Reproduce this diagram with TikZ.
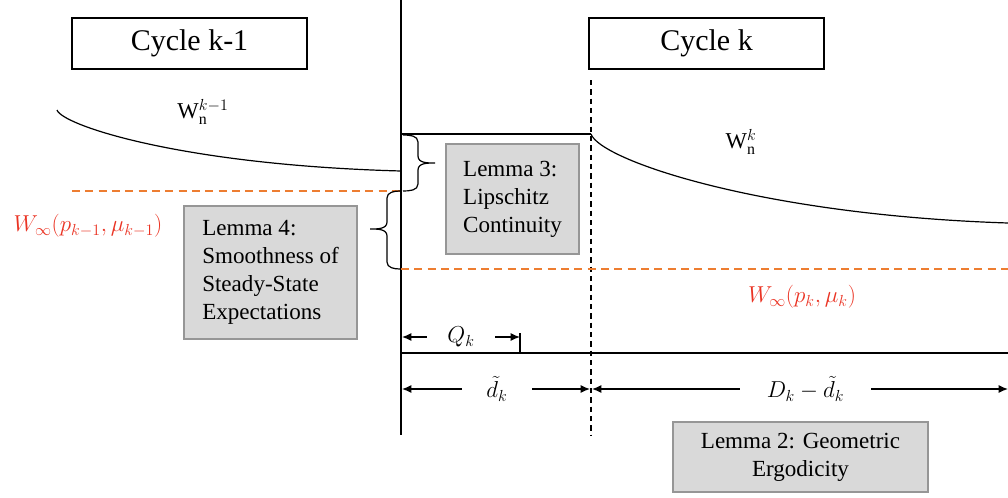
\documentclass[tikz,border=0pt]{standalone}
\usepackage{fontspec}
\setmainfont{Liberation Serif}
\usetikzlibrary{arrows.meta}
\definecolor{wred}{RGB}{234,51,35}
\definecolor{dorange}{RGB}{237,125,49}
\definecolor{lemfill}{RGB}{217,217,217}
\definecolor{lemdraw}{RGB}{150,150,150}
\begin{document}
\begin{tikzpicture}[x=0.75pt,y=-0.75pt,
  cyclebox/.style={draw,line width=0.8pt,inner sep=0pt,minimum width=235*0.75pt,minimum height=51*0.75pt,font=\fontsize{22.5}{27}\selectfont},
  lemmabox/.style={draw=lemdraw,fill=lemfill,line width=1pt,inner sep=0pt,font=\fontsize{17.3}{21}\selectfont},
  ln/.style={line width=0.9pt},
  dimarrow/.style={line width=0.9pt,-{Latex[length=7pt,width=6pt]}},
  mlabel/.style={font=\fontsize{17}{20}\selectfont,inner sep=0pt,minimum height=20pt},
  wl/.style={text=wred,font=\fontsize{17}{20}\selectfont},
  odash/.style={dorange,line width=0.8pt,dash pattern=on 6pt off 4pt},
  vdash/.style={line width=0.9pt,dash pattern=on 4pt off 3pt},
]
\useasboundingbox (0,0) rectangle (1008,497);

% cycle boxes
\node[cyclebox] (c1) at (189.5,43.5) {Cycle k-1};
\node[cyclebox] (c2) at (706.5,43.5) {Cycle k};

% main vertical lines
\coordinate (vt) at (401,0);
\coordinate (vb) at (401,435);
\draw[ln] (vt) -- (vb);
\coordinate (dt) at (591,80);
\coordinate (db) at (591,435);
\draw[vdash] (dt) -- (db);

% curves
\coordinate (ls) at (57,110);
\coordinate (le) at (401,171);
\draw[ln] (ls) .. controls (62,125) and (180,165) .. (le);
\coordinate (p1) at (401,134);
\coordinate (p2) at (591,134);
\coordinate (re) at (1008,223);
\draw[ln] (p1) -- (p2);
\draw[ln] (p2) .. controls (600,160) and (760,215) .. (re);

% steady-state dashed lines
\coordinate (o1a) at (72,191);
\coordinate (o1b) at (401,191);
\coordinate (o2a) at (401,269);
\coordinate (o2b) at (1008,269);
\draw[odash] (o1a) -- (o1b);
\draw[odash] (o2a) -- (o2b);

% braces
\draw[ln] (403,135) to[out=0,in=90] (418,142) -- (418,156) to[out=-90,in=180] (435,163)
          to[out=180,in=90] (418,170) -- (418,184) to[out=-90,in=0] (403,191);
\draw[ln] (400,191) to[out=180,in=90] (387,198) -- (387,222) to[out=-90,in=0] (370,229)
          to[out=0,in=90] (387,236) -- (387,262) to[out=-90,in=180] (400,269);

% lemma boxes
\node[lemmabox,minimum width=133*0.75pt,minimum height=110*0.75pt,align=left] (l3) at (512.5,199) {Lemma 3:\\Lipschitz\\Continuity};
\node[lemmabox,minimum width=173*0.75pt,minimum height=133*0.75pt,align=left] (l4) at (270.5,272.5) {Lemma 4:\\Smoothness of\\Steady-State\\Expectations};
\node[lemmabox,minimum width=255*0.75pt,minimum height=70*0.75pt,align=center] (l2) at (800.5,457) {Lemma 2: Geometric\\Ergodicity};

% curve labels
\node[font=\fontsize{17}{20}\selectfont] (wk1) at (203,112) {$\mathrm{W}_{\mathrm{n}}^{k-1}$};
\node[font=\fontsize{17}{20}\selectfont] (wk) at (741,142) {$\mathrm{W}_{\mathrm{n}}^{k}$};
\node[wl] (winf1) at (88,226) {$W_\infty(p_{k-1},\mu_{k-1})$};
\node[wl] (winf2) at (802,297) {$W_\infty(p_k,\mu_k)$};

% time axis
\coordinate (ha) at (401,353);
\coordinate (hb) at (1008,353);
\draw[ln] (ha) -- (hb);

% Q_k
\node[mlabel,minimum width=68*0.75pt] (qk) at (461,337) {$Q_k$};
\coordinate (qa) at (402,337);
\coordinate (qb) at (520,337);
\draw[dimarrow] (qk) -- (qa);
\draw[dimarrow] (qk) -- (qb);
\coordinate (qt) at (520,333);
\coordinate (qtb) at (520,353);
\draw[ln] (qt) -- (qtb);

% d_k
\node[mlabel,minimum width=70*0.75pt] (dk) at (497,389) {$\tilde{d}_k$};
\coordinate (da) at (402,389);
\coordinate (dbb) at (590,389);
\draw[dimarrow] (dk) -- (da);
\draw[dimarrow] (dk) -- (dbb);

% D_k - d_k
\node[mlabel,minimum width=131*0.75pt] (Dk) at (805.5,389) {$D_k-\tilde{d}_k$};
\coordinate (Da) at (592,389);
\coordinate (Db) at (1008,389);
\draw[dimarrow] (Dk) -- (Da);
\draw[dimarrow] (Dk) -- (Db);
\end{tikzpicture}
\end{document}
